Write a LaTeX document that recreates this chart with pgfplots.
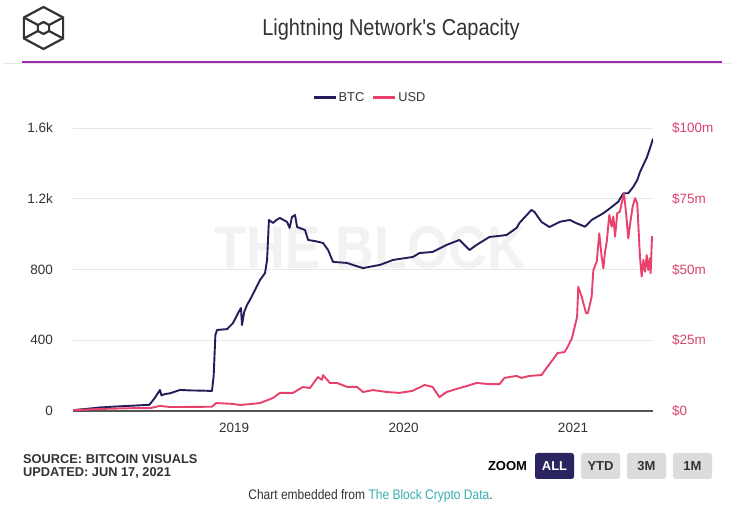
\documentclass[border=0pt]{standalone}
\usepackage{fontspec}
\setmainfont{Liberation Sans}
\newfontfamily\condfont[FakeStretch=0.87]{Liberation Sans}
\usepackage{pgfplots}
\pgfplotsset{compat=1.18}
\usepackage{pgfplotstable}
\definecolor{btc}{HTML}{231E5A}
\definecolor{usd}{HTML}{E8426C}
\definecolor{usdtick}{HTML}{D9456E}
\definecolor{tickdark}{HTML}{333333}
\definecolor{gridgray}{HTML}{E6E6E6}
\definecolor{axisgray}{HTML}{555555}
\definecolor{purpleline}{HTML}{9C2FB0}
\definecolor{tealc}{HTML}{38AEB0}
\definecolor{btngray}{HTML}{DCDCDC}
\definecolor{allnavy}{HTML}{2A2460}

\pgfplotstableread{
x y
2018.050 5
2018.130 12
2018.210 20
2018.300 25
2018.400 30
2018.500 35
2018.530 70
2018.550 100
2018.563 119
2018.572 88
2018.590 95
2018.622 100
2018.660 112
2018.681 119
2018.750 116
2018.820 115
2018.870 113
2018.880 200
2018.890 430
2018.900 458
2018.959 463
2018.994 497
2019.024 554
2019.041 582
2019.047 486
2019.060 560
2019.077 600
2019.094 628
2019.124 684
2019.153 740
2019.183 780
2019.195 854
2019.206 1080
2019.230 1063
2019.250 1080
2019.271 1091
2019.313 1069
2019.328 1035
2019.342 1097
2019.360 1108
2019.372 1040
2019.400 1030
2019.419 1023
2019.437 967
2019.480 960
2019.525 950
2019.555 910
2019.584 843
2019.667 837
2019.720 820
2019.761 808
2019.861 826
2019.938 854
2020.056 871
2020.094 893
2020.171 899
2020.254 939
2020.330 967
2020.389 910
2020.431 939
2020.507 984
2020.566 990
2020.608 995
2020.667 1035
2020.684 1063
2020.755 1137
2020.773 1125
2020.814 1069
2020.861 1040
2020.923 1070
2020.982 1080
2021.022 1061
2021.071 1042
2021.110 1080
2021.179 1118
2021.218 1146
2021.267 1183
2021.297 1231
2021.326 1231
2021.356 1268
2021.379 1306
2021.395 1351
2021.437 1436
2021.466 1521
2021.472 1540
}\btcdata

\pgfplotstableread{
x y
2018.050 0.3
2018.200 0.7
2018.400 1.0
2018.504 1.0
2018.563 1.8
2018.622 1.4
2018.870 1.5
2018.894 2.8
2018.994 2.5
2019.036 2.1
2019.153 2.8
2019.230 4.6
2019.271 6.4
2019.348 6.4
2019.407 8.5
2019.448 8.1
2019.495 12.0
2019.519 11.0
2019.525 12.7
2019.566 9.9
2019.608 9.9
2019.667 8.5
2019.726 8.5
2019.761 6.7
2019.820 7.4
2019.903 6.7
2019.976 6.4
2020.053 7.1
2020.124 9.2
2020.171 8.5
2020.212 4.9
2020.254 6.7
2020.330 8.1
2020.372 8.8
2020.431 9.9
2020.507 9.5
2020.566 9.5
2020.596 11.7
2020.667 12.4
2020.696 11.7
2020.743 12.4
2020.814 12.7
2020.844 15.2
2020.879 18.0
2020.909 20.5
2020.950 20.8
2020.968 22.6
2020.994 25.8
2021.024 33.2
2021.031 43.9
2021.051 40.4
2021.077 34.6
2021.088 34.6
2021.110 40.4
2021.120 49.8
2021.140 52.8
2021.155 62.8
2021.169 54.5
2021.179 50.4
2021.189 56.3
2021.199 59.8
2021.214 69.3
2021.228 65.1
2021.238 68.7
2021.248 61.6
2021.261 69.9
2021.277 70.4
2021.287 73.4
2021.301 76.9
2021.313 69.9
2021.326 61.0
2021.340 67.5
2021.352 72.2
2021.366 75.2
2021.379 73.4
2021.395 54.5
2021.405 47.5
2021.415 53.4
2021.425 49.2
2021.435 55.1
2021.444 49.8
2021.454 54.0
2021.458 48.7
2021.466 61.6
2021.472 60.0
}\usddata

\begin{document}
\begin{tikzpicture}[x=1bp,y=1bp]
\fill[white] (0,0) rectangle (731,512);
\useasboundingbox (0,0) rectangle (731,512);

% logo
\begin{scope}[shift={(43.5,484)}, line width=2.2bp, draw=tickdark, line join=round]
\draw[xscale=1.08] (90:21) -- (30:21) -- (-30:21) -- (-90:21) -- (-150:21) -- (150:21) -- cycle;
\draw[xscale=1.08] (90:6) -- (30:6) -- (-30:6) -- (-90:6) -- (-150:6) -- (150:6) -- cycle;
\draw[xscale=1.08] (30:21) -- (30:6) (150:21) -- (150:6) (-30:21) -- (-30:6) (-150:21) -- (-150:6);
\end{scope}

% title
\node[font=\condfont\fontsize{23bp}{26bp}\selectfont, text=tickdark] at (391,482) {Lightning Network's Capacity};
\draw[gridgray, line width=0.8bp] (3,448.5) -- (731,448.5);
\draw[purpleline, line width=1.6bp] (22,450) -- (722,450);

% watermark
\node[font=\bfseries\fontsize{60bp}{62bp}\selectfont, text=black!5, xscale=0.89] at (370,264) {THE BLOCK};

\begin{axis}[
  at={(73bp,101bp)}, anchor=south west, scale only axis,
  width=580bp, height=283bp,
  xmin=2018.05, xmax=2021.472, ymin=0, ymax=1600,
  axis x line*=bottom, axis y line*=left,
  y axis line style={draw=none},
  x axis line style={draw=axisgray, line width=1.3bp, -},
  xtick={2019,2020,2021}, xticklabels={2019,2020,2021},
  ytick={0,400,800,1200,1600}, yticklabels={0,400,800,1.2k,1.6k},
  major tick length=0pt,
  ymajorgrids, grid style={gridgray, line width=0.9bp},
  tick label style={font=\fontsize{13.5bp}{15bp}\selectfont, text=tickdark},
  yticklabel style={anchor=east, inner sep=0pt, xshift=-20bp},
  xticklabel style={anchor=north, inner sep=0pt, yshift=-12bp},
]
\addplot[btc, line width=1.9bp, line join=round] table {\btcdata};
\end{axis}

\begin{axis}[
  at={(73bp,101bp)}, anchor=south west, scale only axis,
  width=580bp, height=283bp,
  xmin=2018.05, xmax=2021.472, ymin=0, ymax=100,
  axis x line=none, axis y line*=right,
  y axis line style={draw=none},
  ytick={0,25,50,75,100}, yticklabels={\$0,\$25m,\$50m,\$75m,\$100m},
  major tick length=0pt,
  yticklabel style={anchor=west, inner sep=0pt, xshift=19bp, font=\fontsize{13.5bp}{15bp}\selectfont, text=usdtick},
  legend style={at={(0.512,1.1075)}, anchor=center, draw=none, fill=none,
    font=\fontsize{12.8bp}{15bp}\selectfont, text=tickdark,
    /tikz/every even column/.append style={column sep=6bp}},
  legend columns=2,
  legend image code/.code={\draw[#1, line width=2.2bp] (0bp,0bp) -- (22bp,0bp);},
]
\addlegendimage{btc}
\addlegendentry{BTC}
\addplot[usd, line width=1.9bp, line join=round] table {\usddata};
\addlegendentry{USD}
\end{axis}

% footer
\node[anchor=west, inner sep=0pt, font=\bfseries\fontsize{12.8bp}{15bp}\selectfont, text=tickdark] at (23,52.5) {SOURCE: BITCOIN VISUALS};
\node[anchor=west, inner sep=0pt, font=\bfseries\fontsize{12.8bp}{15bp}\selectfont, text=tickdark] at (23,38.5) {UPDATED: JUN 17, 2021};

\node[font=\bfseries\fontsize{13bp}{15bp}\selectfont, text=black] at (507.5,46) {ZOOM};
\fill[allnavy, rounded corners=2.5bp] (535,33) rectangle (574,59);
\node[font=\bfseries\fontsize{13bp}{15bp}\selectfont, text=white] at (554.5,46) {ALL};
\fill[btngray, rounded corners=2.5bp] (581,33) rectangle (620,59);
\node[font=\bfseries\fontsize{13bp}{15bp}\selectfont, text=tickdark] at (600.5,46) {YTD};
\fill[btngray, rounded corners=2.5bp] (627,33) rectangle (666,59);
\node[font=\bfseries\fontsize{13bp}{15bp}\selectfont, text=tickdark] at (646.5,46) {3M};
\fill[btngray, rounded corners=2.5bp] (673,33) rectangle (712,59);
\node[font=\bfseries\fontsize{13bp}{15bp}\selectfont, text=tickdark] at (692.5,46) {1M};

\node[font=\condfont\fontsize{13.8bp}{15bp}\selectfont, text=tickdark] at (370.5,16) {Chart embedded from \textcolor{tealc}{The Block Crypto Data}.};
\end{tikzpicture}
\end{document}
